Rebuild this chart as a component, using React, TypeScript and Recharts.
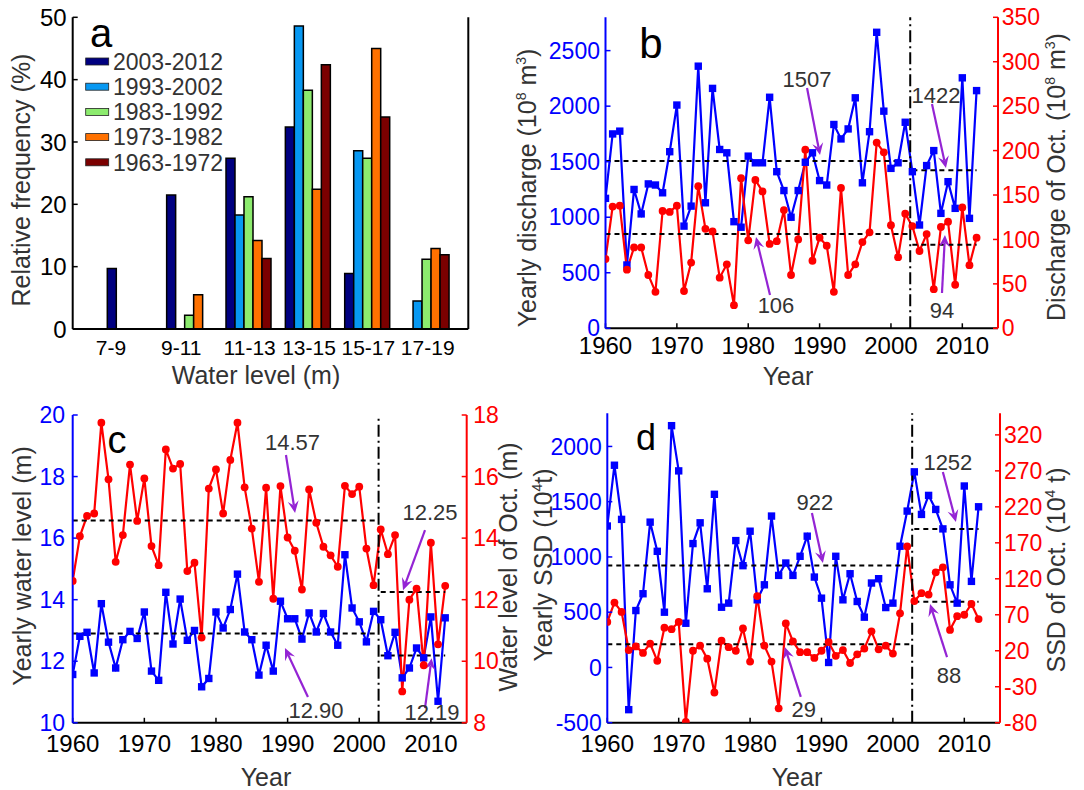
import React from 'react';
import { BarChart, Bar, ComposedChart, Line, XAxis, YAxis, ReferenceLine, Legend } from 'recharts';

const FONT = '"Liberation Sans", Arial, Helvetica, sans-serif';
const BLUE = '#0000ff';
const RED = '#ff0000';
const PURPLE = '#9424d4';
const GREY = '#333333';

// ---------- Panel a : relative frequency of water level ----------
const levelBins = ['7-9', '9-11', '11-13', '13-15', '15-17', '17-19'];
const periods = ['2003-2012', '1993-2002', '1983-1992', '1973-1982', '1963-1972'];
const freq2003_2012 = [9.7, 21.5, 27.4, 32.4, 8.9, 0];
const freq1993_2002 = [0, 0, 18.3, 48.6, 28.6, 4.5];
const freq1983_1992 = [0, 2.2, 21.2, 38.3, 27.4, 11.2];
const freq1973_1982 = [0, 5.5, 14.2, 22.4, 45.0, 12.9];
const freq1963_1972 = [0, 0, 11.3, 42.4, 34.0, 11.9];
const freqTicks = [0, 10, 20, 30, 40, 50];

// ---------- Years ----------
const years = [
  1960, 1961, 1962, 1963, 1964, 1965, 1966, 1967, 1968, 1969,
  1970, 1971, 1972, 1973, 1974, 1975, 1976, 1977, 1978, 1979,
  1980, 1981, 1982, 1983, 1984, 1985, 1986, 1987, 1988, 1989,
  1990, 1991, 1992, 1993, 1994, 1995, 1996, 1997, 1998, 1999,
  2000, 2001, 2002, 2003, 2004, 2005, 2006, 2007, 2008, 2009,
  2010, 2011, 2012,
];
const yearTicks = [1960, 1970, 1980, 1990, 2000, 2010];

// ---------- Panel b : discharge ----------
const dischargeYear = [
  1170, 1750, 1775, 570, 1250, 1030, 1300, 1290, 1220, 1590,
  2010, 920, 1100, 2360, 1130, 2160, 1610, 1580, 960, 910,
  1550, 1490, 1490, 2080, 1410, 1240, 1000, 1240, 1495, 1580,
  1330, 1290, 1835, 1705, 1795, 2075, 1310, 1770, 2665, 1955,
  1440, 1490, 1855, 1410, 930, 1465, 1600, 1035, 1320, 1080,
  2255, 990, 2140,
];
const dischargeOct = [
  78, 137, 138, 66, 91, 91, 60, 41, 132, 131,
  138, 42, 74, 160, 112, 109, 57, 72, 26, 169,
  99, 167, 154, 95, 98, 133, 60, 100, 201, 76,
  102, 93, 41, 158, 60, 72, 97, 108, 209, 198,
  116, 80, 129, 115, 87, 106, 44, 114, 120, 49,
  136, 71, 102,
];
const dischargeTicks = [0, 500, 1000, 1500, 2000, 2500];
const dischargeOctTicks = [0, 50, 100, 150, 200, 250, 300, 350];

// ---------- Panel c : water level ----------
const waterYear = [
  11.57, 12.81, 12.94, 11.62, 13.87, 12.62, 11.78, 12.70, 12.97, 12.74,
  13.60, 11.68, 11.38, 14.24, 12.56, 14.02, 12.68, 13.00, 11.17, 11.44,
  13.60, 13.08, 13.68, 14.83, 12.95, 12.70, 11.55, 12.52, 11.68, 13.95,
  13.38, 13.38, 12.72, 13.57, 12.95, 13.55, 12.95, 12.52, 15.46, 13.73,
  13.28, 12.63, 13.62, 13.35, 12.18, 12.94, 11.46, 11.78, 12.43, 12.11,
  13.44, 10.70, 13.41,
];
const waterOct = [
  12.61, 14.06, 14.72, 14.80, 17.75, 15.91, 13.23, 14.10, 16.39, 14.56,
  15.94, 13.74, 13.12, 16.88, 16.26, 16.41, 12.93, 13.20, 10.77, 15.61,
  16.23, 14.80, 16.54, 17.75, 15.65, 14.31, 12.58, 15.64, 12.03, 15.69,
  14.02, 13.59, 12.33, 15.58, 14.50, 13.72, 13.44, 13.07, 15.70, 15.43,
  15.67, 13.66, 12.47, 14.28, 13.48, 14.10, 9.02, 12.00, 12.36, 9.87,
  13.85, 10.55, 12.45,
];
const waterTicks = [10, 12, 14, 16, 18, 20];
const waterOctTicks = [8, 10, 12, 14, 16, 18];

// ---------- Panel d : suspended sediment discharge ----------
const ssdYear = [
  1280, 1830, 1340, -382, 515, 667, 1315, 1051, 500, 2188,
  1779, 400, 1121, 1309, 712, 1567, 545, 582, 1148, 921,
  1233, 612, 748, 1370, 833, 945, 833, 1006, 1188, 818,
  627, 45, 1006, 612, 848, 597, 455, 764, 803, 542,
  582, 1097, 1415, 1770, 1385, 1557, 1430, 1254, 748, 582,
  1642, 779, 1454,
];
const ssdOct = [
  60, 87, 74, 21, 26, 17, 30, 6, 52, 50,
  60, -79, 20, 27, 9, -38, 34, 25, 20, 51,
  5, 96, 27, 5, -60, 58, 33, 18, 18, 10,
  20, 32, 13, 21, 3, 15, 23, 47, 22, 27,
  16, 72, 165, 89, 100, 98, 129, 136, 49, 68,
  70, 85, 64,
];
const ssdTicks = [-500, 0, 500, 1000, 1500, 2000];
const ssdOctTicks = [-80, -30, 20, 70, 120, 170, 220, 270, 320];

// ---------- period means (pre / post 2003) ----------
const meansDischarge = { bPre: 1507, bPost: 1422, rPre: 106, rPost: 94 };
const meansWater = { bPre: 12.90, bPost: 12.19, rPre: 14.57, rPost: 12.25 };
const meansSsd = { bPre: 922, bPost: 1252, rPre: 29, rPost: 88 };
const breakYear = 2002.7;

// ---------- built tables ----------
const dataA = levelBins.map((bin, i) => ({
  bin,
  p1: freq2003_2012[i],
  p2: freq1993_2002[i],
  p3: freq1983_1992[i],
  p4: freq1973_1982[i],
  p5: freq1963_1972[i],
}));
const barKeys = ['p1', 'p2', 'p3', 'p4', 'p5'];
const barColors = ['#000080', '#0798f2', '#8ceb6e', '#ff7100', '#7b0000'];

const dataB = years.map((year, i) => ({ year, blue: dischargeYear[i], red: dischargeOct[i] }));
const dataC = years.map((year, i) => ({ year, blue: waterYear[i], red: waterOct[i] }));
const dataD = years.map((year, i) => ({ year, blue: ssdYear[i], red: ssdOct[i] }));

// ---------- helpers ----------
function SquareDot(props: any) {
  const { cx, cy } = props;
  if (cx == null || cy == null || isNaN(cx) || isNaN(cy)) return null;
  return <rect x={cx - 3.7} y={cy - 3.7} width={7.4} height={7.4} fill={BLUE} />;
}

function makeArrow(text: string, dx: number, dy: number) {
  return (p: any) => {
    const { x1, y1, x2, y2 } = p;
    if ([x1, y1, x2, y2].some((v) => v == null || isNaN(v))) return <g />;
    const ang = Math.atan2(y2 - y1, x2 - x1);
    const L = 12;
    const W = 5.5;
    const N = 7.5;
    const c = Math.cos(ang);
    const s = Math.sin(ang);
    const bx = x2 - L * c;
    const by = y2 - L * s;
    const nx = x2 - N * c;
    const ny = y2 - N * s;
    const lx = bx - W * s;
    const ly = by + W * c;
    const rx = bx + W * s;
    const ry = by - W * c;
    return (
      <g>
        <line x1={x1} y1={y1} x2={nx} y2={ny} stroke={PURPLE} strokeWidth={2.2} />
        <polygon points={`${x2},${y2} ${lx},${ly} ${nx},${ny} ${rx},${ry}`} fill={PURPLE} />
        <text x={x1 + dx} y={y1 + dy} textAnchor="middle" fontSize={22} fill={GREY} fontFamily={FONT}>
          {text}
        </text>
      </g>
    );
  };
}

function BinTick(props: any) {
  const { x, y, payload } = props;
  const v = payload && payload.value;
  const shift = v === '7-9' ? -20 : v === '9-11' ? -9 : 0;
  return (
    <text x={x + shift} y={y} dy="0.71em" textAnchor="middle" fontSize={21} fontFamily={FONT} fill="#000">
      {v}
    </text>
  );
}

function LegendA() {
  return (
    <svg width={200} height={130} style={{ display: 'block', overflow: 'visible' }}>
      {periods.map((name, i) => {
        const cy = 12.5 + i * 25.2;
        return (
          <g key={name}>
            <rect x={1.7} y={cy - 3.5} width={23} height={7} fill={barColors[i]} stroke="#222" strokeWidth={0.8} />
            <text x={29} y={cy + 8.3} fontSize={23} fontFamily={FONT} fill={GREY}>
              {name}
            </text>
          </g>
        );
      })}
    </svg>
  );
}

function PanelA() {
  return (
    <div style={{ position: 'absolute', left: 0, top: 0 }}>
      <BarChart
        width={530}
        height={395}
        data={dataA}
        margin={{ top: 17.3, right: 0, bottom: 0, left: 0 }}
        barCategoryGap={6}
        barGap={0}
      >
        <XAxis
          xAxisId="b"
          dataKey="bin"
          height={66}
          padding={{ left: 28.6, right: 10.9 }}
          tickSize={0}
          tickMargin={11}
          tickLine={false}
          axisLine={{ stroke: '#000', strokeWidth: 2 }}
          tick={<BinTick />}
          interval={0}
        />
        <XAxis
          xAxisId="t"
          dataKey="bin"
          orientation="top"
          height={0}
          padding={{ left: 28.6, right: 10.9 }}
          tick={false}
          tickLine={false}
          axisLine={{ stroke: '#000', strokeWidth: 2 }}
        />
        <YAxis
          yAxisId="l"
          type="number"
          domain={[0, 50]}
          ticks={freqTicks}
          interval={0}
          width={72.7}
          tickSize={-5}
          tickMargin={11}
          axisLine={{ stroke: '#000', strokeWidth: 2 }}
          tickLine={{ stroke: '#000', strokeWidth: 1.5 }}
          tick={{ fill: '#000', fontSize: 24, fontFamily: FONT }}
        />
        <YAxis
          yAxisId="r"
          orientation="right"
          type="number"
          domain={[0, 50]}
          width={61.7}
          tick={false}
          tickLine={false}
          axisLine={{ stroke: '#000', strokeWidth: 2 }}
        />
        <Legend
          layout="vertical"
          verticalAlign="middle"
          align="center"
          wrapperStyle={{ left: 84, top: 49, width: 200, height: 130 }}
          content={() => <LegendA />}
        />
        {barKeys.map((k, i) => (
          <Bar
            key={k}
            xAxisId="b"
            yAxisId="l"
            dataKey={k}
            name={periods[i]}
            fill={barColors[i]}
            stroke="#000"
            strokeWidth={1.5}
            isAnimationActive={false}
          />
        ))}
      </BarChart>
    </div>
  );
}

type Ann = { text: string; from: [number, number]; to: [number, number]; dx: number; dy: number };

interface PanelProps {
  left: number;
  top: number;
  width: number;
  height: number;
  plotTop: number;
  leftW: number;
  rightW: number;
  bottomH: number;
  data: any[];
  lDomain: [number, number];
  lTicks: number[];
  rDomain: [number, number];
  rTicks: number[];
  means: { bPre: number; bPost: number; rPre: number; rPost: number };
  anns: Ann[];
  mirror: boolean;
  tm: { l: number; r: number; b: number };
}

function LinePanel(p: PanelProps) {
  const tickFont = { fontSize: 23, fontFamily: FONT };
  const dash = { stroke: '#000', strokeWidth: 2, strokeDasharray: '5 4' };
  return (
    <div style={{ position: 'absolute', left: p.left, top: p.top }}>
      <ComposedChart
        width={p.width}
        height={p.height}
        data={p.data}
        margin={{ top: p.plotTop, right: 0, bottom: 0, left: 0 }}
      >
        <XAxis
          xAxisId="b"
          dataKey="year"
          type="number"
          domain={[1960, 2015]}
          ticks={yearTicks}
          interval={0}
          allowDataOverflow
          height={p.bottomH}
          tickSize={-5}
          tickMargin={p.tm.b}
          axisLine={{ stroke: '#000', strokeWidth: 2 }}
          tickLine={{ stroke: '#000', strokeWidth: 1.5 }}
          tick={{ fill: '#000', fontSize: 24, fontFamily: FONT }}
        />
        <XAxis
          xAxisId="t"
          dataKey="year"
          orientation="top"
          type="number"
          domain={[1960, 2015]}
          ticks={yearTicks}
          interval={0}
          allowDataOverflow
          height={0}
          tick={false}
          tickSize={-5}
          axisLine={{ stroke: '#000', strokeWidth: 2 }}
          tickLine={{ stroke: '#000', strokeWidth: 1.5 }}
        />
        <YAxis
          yAxisId="l"
          type="number"
          domain={p.lDomain}
          ticks={p.lTicks}
          interval={0}
          allowDataOverflow
          width={p.leftW}
          tickSize={-5}
          tickMargin={p.tm.l}
          axisLine={{ stroke: BLUE, strokeWidth: 2 }}
          tickLine={{ stroke: BLUE, strokeWidth: 1.5 }}
          tick={{ fill: BLUE, ...tickFont }}
        />
        {p.mirror && (
          <YAxis
            yAxisId="m"
            orientation="right"
            type="number"
            domain={p.lDomain}
            ticks={p.lTicks}
            interval={0}
            allowDataOverflow
            width={0}
            tick={false}
            tickSize={-5}
            axisLine={false}
            tickLine={{ stroke: BLUE, strokeWidth: 1.5 }}
          />
        )}
        <YAxis
          yAxisId="r"
          orientation="right"
          type="number"
          domain={p.rDomain}
          ticks={p.rTicks}
          interval={0}
          allowDataOverflow
          width={p.rightW}
          tickSize={-5}
          tickMargin={p.tm.r}
          axisLine={{ stroke: RED, strokeWidth: 2 }}
          tickLine={{ stroke: RED, strokeWidth: 1.5 }}
          tick={{ fill: RED, ...tickFont }}
        />
        <Line
          xAxisId="b"
          yAxisId="l"
          dataKey="blue"
          stroke={BLUE}
          strokeWidth={2.2}
          dot={<SquareDot />}
          isAnimationActive={false}
        />
        <Line
          xAxisId="b"
          yAxisId="r"
          dataKey="red"
          stroke={RED}
          strokeWidth={2.2}
          dot={{ r: 3.9, fill: RED, stroke: RED, strokeWidth: 0 }}
          isAnimationActive={false}
        />
        <ReferenceLine xAxisId="b" yAxisId="l" segment={[{ x: 1960, y: p.means.bPre }, { x: 2002.5, y: p.means.bPre }]} {...dash} />
        <ReferenceLine xAxisId="b" yAxisId="l" segment={[{ x: 2003, y: p.means.bPost }, { x: 2012, y: p.means.bPost }]} {...dash} />
        <ReferenceLine xAxisId="b" yAxisId="r" segment={[{ x: 1960, y: p.means.rPre }, { x: 2002.5, y: p.means.rPre }]} {...dash} />
        <ReferenceLine xAxisId="b" yAxisId="r" segment={[{ x: 2003, y: p.means.rPost }, { x: 2012, y: p.means.rPost }]} {...dash} />
        <ReferenceLine xAxisId="b" yAxisId="l" x={breakYear} stroke="#000" strokeWidth={2} strokeDasharray="12 4 2 4" />
        {p.anns.map((a) => (
          <ReferenceLine
            key={a.text}
            xAxisId="b"
            yAxisId="l"
            segment={[{ x: a.from[0], y: a.from[1] }, { x: a.to[0], y: a.to[1] }]}
            stroke={PURPLE}
            shape={makeArrow(a.text, a.dx, a.dy)}
          />
        ))}
      </ComposedChart>
    </div>
  );
}

function Overlay() {
  const sup = (t: string) => (
    <>
      <tspan dy={-10} fontSize={14}>{t}</tspan>
      <tspan dy={10}> </tspan>
    </>
  );
  return (
    <svg width={1084} height={790} style={{ position: 'absolute', left: 0, top: 0, pointerEvents: 'none' }}>
      <g fontFamily={FONT} fill="#000">
        <text x={101} y={47} fontSize={40} textAnchor="middle">a</text>
        <text x={651} y={58} fontSize={42} textAnchor="middle">b</text>
        <text x={117} y={453} fontSize={38} textAnchor="middle">c</text>
        <text x={646} y={450} fontSize={36} textAnchor="middle">d</text>
      </g>
      <g fontFamily={FONT} fill={GREY} fontSize={25}>
        <text transform="translate(30,180) rotate(-90)" textAnchor="middle">Relative frequency (%)</text>
        <text x={256} y={384} textAnchor="middle">Water level (m)</text>

        <text transform="translate(536,188) rotate(-90)" textAnchor="middle">
          Yearly discharge (10{sup('8')}m<tspan dy={-10} fontSize={14}>3</tspan><tspan dy={10}>)</tspan>
        </text>
        <text transform="translate(1065,177) rotate(-90)" textAnchor="middle">
          Discharge of Oct. (10{sup('8')}m<tspan dy={-10} fontSize={14}>3</tspan><tspan dy={10}>)</tspan>
        </text>
        <text x={788} y={385} textAnchor="middle">Year</text>

        <text transform="translate(31,566) rotate(-90)" textAnchor="middle">Yearly water level (m)</text>
        <text transform="translate(517,567) rotate(-90)" textAnchor="middle">Water level of Oct. (m)</text>
        <text x={266} y={786} textAnchor="middle">Year</text>

        <text transform="translate(552,565) rotate(-90)" textAnchor="middle">
          Yearly SSD (10<tspan dy={-10} fontSize={14}>4</tspan><tspan dy={10}>t)</tspan>
        </text>
        <text transform="translate(1065,570) rotate(-90)" textAnchor="middle">
          SSD of Oct. (10<tspan dy={-10} fontSize={14}>4</tspan><tspan dy={10}> t)</tspan>
        </text>
        <text x={797} y={786} textAnchor="middle">Year</text>
      </g>
    </svg>
  );
}

export default function App() {
  return (
    <div
      style={{
        position: 'absolute',
        left: 0,
        top: 0,
        width: 1084,
        height: 790,
        background: '#fff',
        fontFamily: FONT,
        overflow: 'hidden',
      }}
    >
      <PanelA />
      <LinePanel
        left={500}
        top={0}
        width={584}
        height={395}
        plotTop={17.3}
        leftW={105.5}
        rightW={86}
        bottomH={66.7}
        data={dataB}
        lDomain={[0, 2800]}
        lTicks={dischargeTicks}
        rDomain={[0, 350]}
        rTicks={dischargeOctTicks}
        means={meansDischarge}
        mirror
        tm={{ l: 10.5, r: 8.7, b: 13.4 }}
        anns={[
          { text: '1507', from: [1988.24, 2163], to: [1990.06, 1560], dx: 0, dy: -1 },
          { text: '1422', from: [2005.75, 2019], to: [2007.71, 1443], dx: 4, dy: -1 },
          { text: '106', from: [1983.05, 300], to: [1981.09, 822], dx: 6, dy: 18 },
          { text: '94', from: [2007.15, 318], to: [2007.57, 840], dx: 0, dy: 25 },
        ]}
      />
      <LinePanel
        left={0}
        top={395}
        width={530}
        height={395}
        plotTop={20}
        leftW={72.7}
        rightW={63.3}
        bottomH={67.2}
        data={dataC}
        lDomain={[10, 20]}
        lTicks={waterTicks}
        rDomain={[8, 18]}
        rTicks={waterOctTicks}
        means={meansWater}
        mirror={false}
        tm={{ l: 12.7, r: 11.6, b: 17 }}
        anns={[
          { text: '14.57', from: [1989.77, 18.7], to: [1991.04, 16.82], dx: 6.5, dy: -5 },
          { text: '12.90', from: [1992.84, 10.84], to: [1989.63, 12.43], dx: 8, dy: 21 },
          { text: '12.25', from: [2009.18, 16.26], to: [2006.11, 14.31], dx: 5, dy: -10 },
          { text: '12.19', from: [2009.18, 10.48], to: [2010.1, 12.1], dx: 7, dy: 12 },
        ]}
      />
      <LinePanel
        left={500}
        top={395}
        width={584}
        height={395}
        plotTop={18.3}
        leftW={107.3}
        rightW={84}
        bottomH={67.3}
        data={dataD}
        lDomain={[-500, 2300]}
        lTicks={ssdTicks}
        rDomain={[-80, 350]}
        rTicks={ssdOctTicks}
        means={meansSsd}
        mirror
        tm={{ l: 10.6, r: 9, b: 17 }}
        anns={[
          { text: '922', from: [1988.66, 1398], to: [1990.2, 945], dx: 3, dy: -3 },
          { text: '1252', from: [2007.0, 1769], to: [2008.83, 1316], dx: 5, dy: -2 },
          { text: '29', from: [1987.1, -267], to: [1984.86, 185], dx: 3, dy: 20 },
          { text: '88', from: [2007.58, 94], to: [2005.2, 574], dx: 2, dy: 26 },
        ]}
      />
      <Overlay />
    </div>
  );
}
